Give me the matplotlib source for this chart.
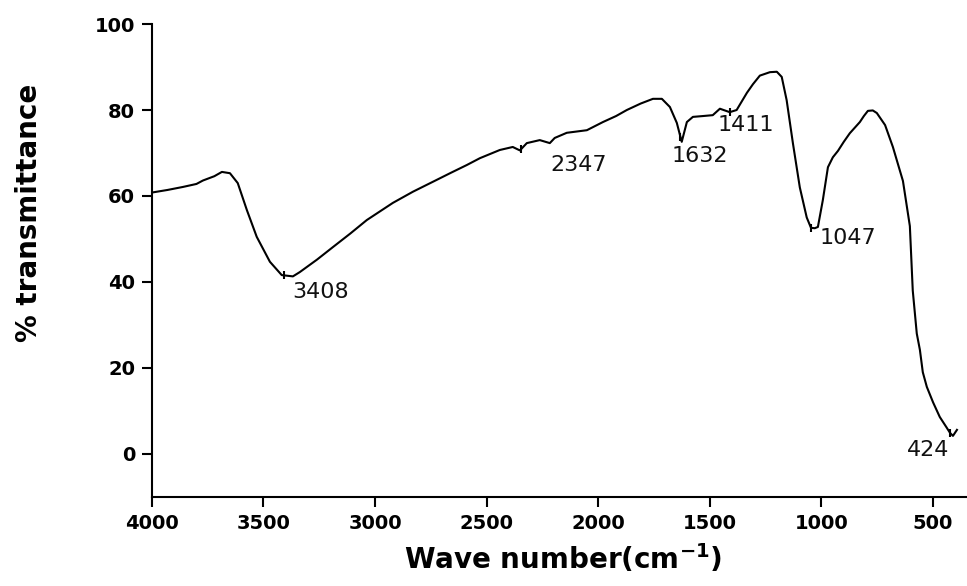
import numpy as np
import matplotlib
matplotlib.use('Agg')
import matplotlib.pyplot as plt

wavenumber = [4000, 3930, 3861, 3800, 3771, 3720, 3686, 3650, 3615, 3574, 3530,
              3471, 3418, 3368, 3337, 3260, 3189, 3110, 3037, 2920, 2830, 2741,
              2660, 2589, 2530, 2441, 2383, 2351, 2320, 2262, 2217, 2195, 2141,
              2051, 1979, 1920, 1872, 1810, 1755, 1715, 1679, 1648, 1626, 1603,
              1576, 1530, 1487, 1455, 1411, 1380, 1334, 1307, 1276, 1231, 1200,
              1178, 1156, 1128, 1097, 1066, 1047, 1030, 1016, 994, 971, 949,
              926, 900, 873, 828, 810, 792, 770, 752, 715, 680, 635, 604, 591,
              573, 559, 546, 528, 500, 470, 440, 424, 411, 393]
transmittance = [60.8, 61.4, 62.1, 62.8, 63.6, 64.6, 65.6, 65.3, 63.0, 56.7, 50.5,
                 44.7, 41.6, 41.3, 42.3, 45.2, 48.1, 51.3, 54.4, 58.4, 61.0, 63.3,
                 65.4, 67.2, 68.8, 70.7, 71.4, 70.6, 72.3, 73.0, 72.3, 73.5, 74.7,
                 75.3, 77.2, 78.6, 80.0, 81.5, 82.6, 82.6, 80.7, 77.0, 72.6, 77.2,
                 78.4, 78.6, 78.8, 80.3, 79.5, 80.0, 84.0, 86.0, 88.0, 88.8, 88.9,
                 87.7, 82.3, 72.3, 62.0, 55.0, 52.6, 52.5, 52.8, 59.0, 66.7, 69.0,
                 70.5, 72.6, 74.6, 77.2, 78.6, 79.8, 79.9, 79.3, 76.5, 71.4, 63.5,
                 53.0, 38.0, 28.0, 24.2, 19.0, 15.6, 12.0, 8.6, 6.2, 4.9, 4.2, 5.6]

# labelled bands
peaks = [3408, 2347, 1632, 1411, 1047, 424]
peak_offsets = [(6, -12), (21, -11), (-6, -14), (-9, -9), (6, -7), (-31, -12)]

fig = plt.figure(figsize=(9.67, 5.86), dpi=100)
ax = fig.add_axes([0.157, 0.152, 0.843, 0.807])

ax.plot(wavenumber, transmittance, color='black', lw=1.5)

# x values are decreasing, so flip both arrays for np.interp
wn_rev = wavenumber[::-1]
tr_rev = transmittance[::-1]
for p, (dx, dy) in zip(peaks, peak_offsets):
    y = np.interp(p, wn_rev, tr_rev)
    ax.plot([p], [y], marker='|', color='black', ms=6, mew=1.5)
    ax.annotate(str(p), xy=(p, y), xytext=(dx, dy), textcoords='offset points',
                ha='left', va='center', fontsize=16, color='#111111')

ax.set_xlim(4000, 348)
ax.set_ylim(-10, 100)
ax.set_xticks([4000, 3500, 3000, 2500, 2000, 1500, 1000, 500])
ax.set_yticks([0, 20, 40, 60, 80, 100])

ax.spines['top'].set_visible(False)
ax.spines['right'].set_visible(False)
ax.spines['left'].set_linewidth(1.5)
ax.spines['bottom'].set_linewidth(1.5)
ax.tick_params(direction='out', length=7, width=1.5, pad=5)
for lab in ax.get_xticklabels() + ax.get_yticklabels():
    lab.set_fontsize(14)
    lab.set_fontweight('bold')

ax.set_xlabel('Wave number(cm$^{\\mathbf{-1}}$)', fontsize=20, fontweight='bold')
ax.set_ylabel('% transmittance', fontsize=20, fontweight='bold')
ax.xaxis.set_label_coords(0.504, -0.095)
ax.yaxis.set_label_coords(-0.134, 0.6)

fig.savefig('out.png', dpi=100)
